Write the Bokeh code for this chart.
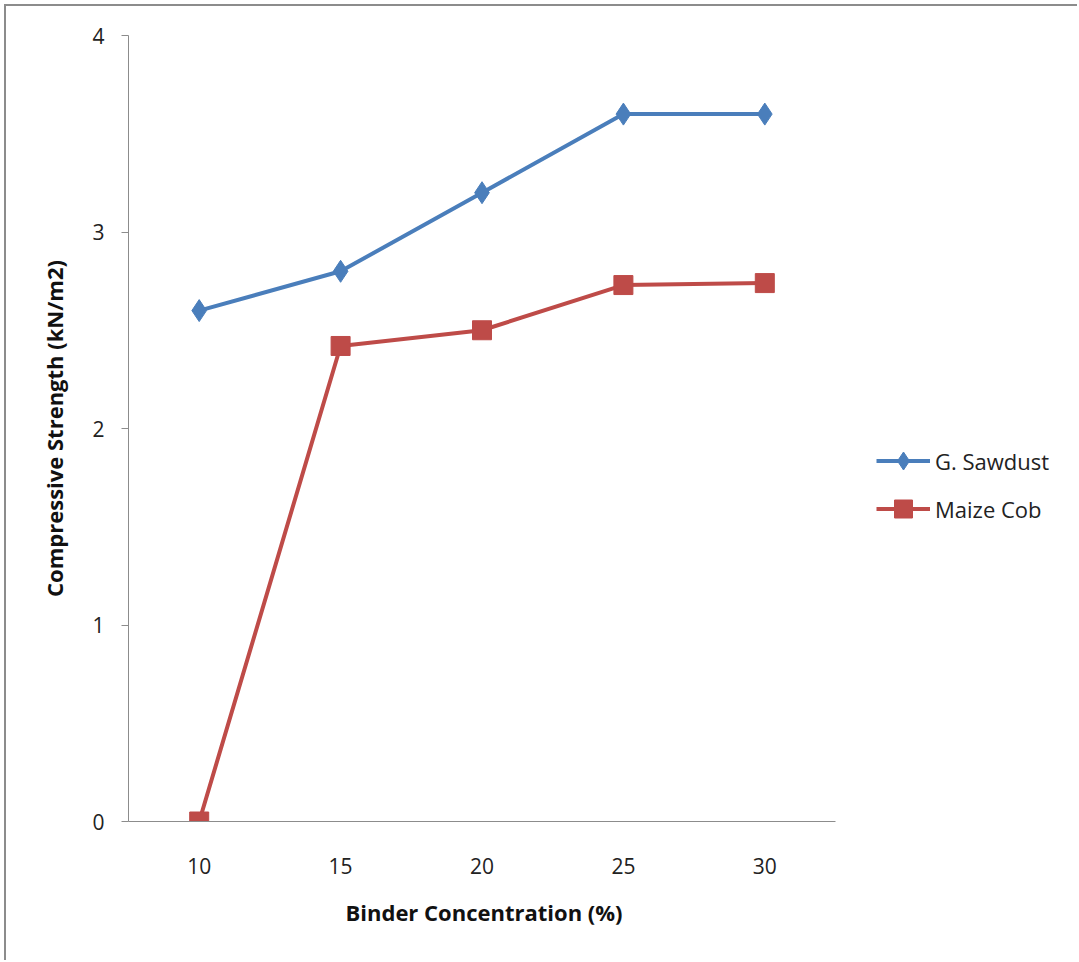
from bokeh.plotting import figure
from bokeh.models import Range1d, Legend, LegendItem, FixedTicker, Title
from bokeh.embed import file_html
from bokeh.resources import INLINE

categories = ["10", "15", "20", "25", "30"]
sawdust = [2.6, 2.8, 3.2, 3.6, 3.6]
maize = [0.0, 2.42, 2.5, 2.73, 2.74]
y_ticks = [0, 1, 2, 3, 4]

FONT = "Open Sans"
BLUE = "#4a7ebb"
RED = "#be4b48"
GREY = "#8c8c8c"

# category slots: each category sits in the middle of its own unit-wide band
x_pos = [i + 0.5 for i in range(len(categories))]
n_cat = len(categories)
frame_w_axis = 707.0
frame_w_total = 1073 - 122
x_end = n_cat * frame_w_total / frame_w_axis

p = figure(width=1073, height=956, x_range=Range1d(0, x_end),
           y_range=Range1d(0, 4), output_backend="svg", toolbar_location=None,
           min_border_left=122, min_border_right=0, min_border_top=29,
           min_border_bottom=141)
p.styles = {"margin-left": "4px", "margin-top": "4px",
            "border-left": "2px solid #8c8c8c", "border-top": "2px solid #8c8c8c"}
p.outline_line_color = None
p.xgrid.grid_line_color = None
p.ygrid.grid_line_color = None

r1 = p.line(x_pos, sawdust, line_color=BLUE, line_width=4)
m1 = p.scatter(x_pos, sawdust, marker="diamond", size=22,
               fill_color=BLUE, line_color=BLUE)
r2 = p.line(x_pos, maize, line_color=RED, line_width=4)
m2 = p.scatter(x_pos, maize, marker="square", size=19, fill_color=RED, line_color=RED)

p.yaxis.ticker = FixedTicker(ticks=y_ticks)
p.xaxis.ticker = FixedTicker(ticks=x_pos)
p.xaxis.major_label_overrides = {x: c for x, c in zip(x_pos, categories)}
p.xaxis.bounds = (0, n_cat)
p.yaxis.bounds = (0, 4)

for ax in (p.xaxis[0], p.yaxis[0]):
    ax.axis_line_color = GREY
    ax.major_tick_line_color = GREY
    ax.minor_tick_line_color = None
    ax.major_label_text_font = FONT
    ax.major_label_text_font_size = "21px"
    ax.major_label_text_color = "#222222"
    ax.axis_label_text_font = FONT
    ax.axis_label_text_font_size = "22px"
    ax.axis_label_text_font_style = "bold"
    ax.axis_label_text_color = "#111111"

p.yaxis.major_tick_out = 7
p.yaxis.major_tick_in = 0
p.yaxis.major_label_standoff = 17
p.yaxis.axis_label = "Compressive Strength (kN/m2)"
p.yaxis.axis_label_standoff = 20

p.xaxis.major_tick_out = 0
p.xaxis.major_tick_in = 0
p.xaxis.major_label_standoff = 36

# x-axis title, centred under the category axis (not the whole frame)
xtitle = Title(text="Binder Concentration (%)", align="left", offset=217,
               text_font=FONT, text_font_size="22px", text_font_style="bold",
               text_color="#111111", standoff=36)
p.add_layout(xtitle, "below")

legend = Legend(items=[LegendItem(label="G. Sawdust", renderers=[r1, m1]),
                       LegendItem(label="Maize Cob", renderers=[r2, m2])],
                location=(748, 290), glyph_width=54, glyph_height=45, spacing=3,
                padding=0, margin=0, label_standoff=5, border_line_color=None,
                background_fill_alpha=0, label_text_font=FONT,
                label_text_font_size="22px", label_text_color="#222222")
p.add_layout(legend)

open("out.html", "w").write(file_html(p, INLINE))
